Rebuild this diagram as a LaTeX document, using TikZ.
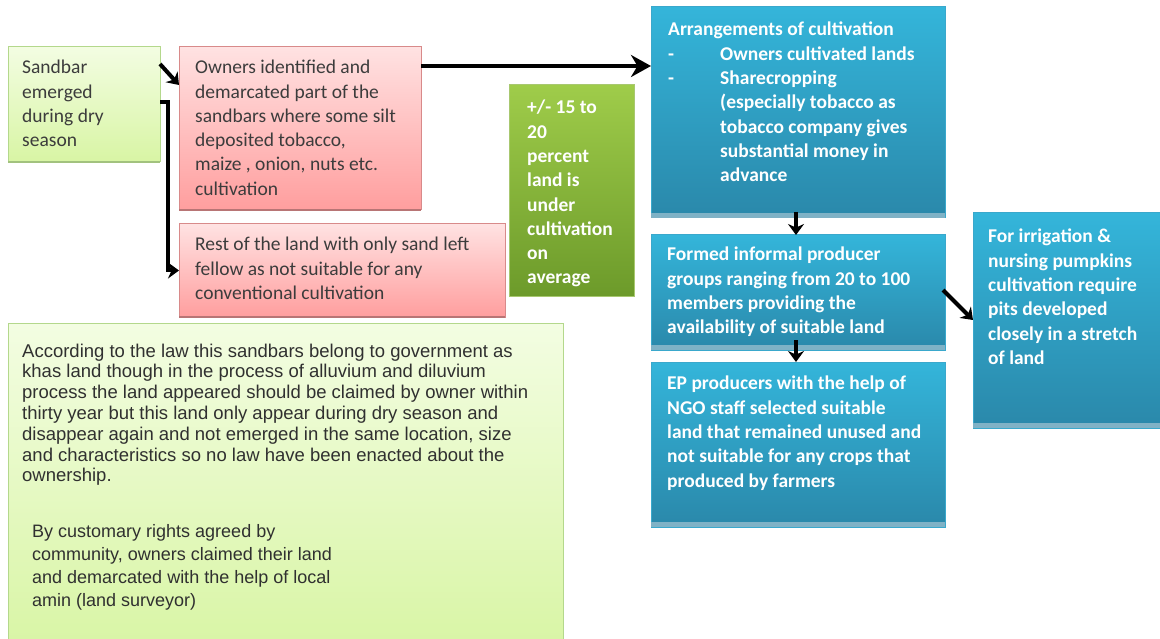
\documentclass[tikz,border=0pt]{standalone}
\usepackage{fontspec}
\setmainfont{Carlito}
\newfontfamily\arialf{Liberation Sans}
\usetikzlibrary{arrows.meta,calc}
\definecolor{lgTop}{HTML}{F3FDE2}
\definecolor{lgBot}{HTML}{D8F5A4}
\definecolor{lgEdge}{HTML}{B4D88C}
\definecolor{pkTop}{HTML}{FFE2E2}
\definecolor{pkBot}{HTML}{FF9E9E}
\definecolor{pkEdge}{HTML}{D88A8A}
\definecolor{dgTop}{HTML}{9FCC4A}
\definecolor{dgBot}{HTML}{6C9A2A}
\definecolor{dgEdge}{HTML}{A8C870}
\definecolor{blTop}{HTML}{34B5DA}
\definecolor{blBot}{HTML}{2A88AA}
\definecolor{blEdge}{HTML}{3AA8CC}
\definecolor{blStrip}{HTML}{7FB2C6}
\definecolor{txtGray}{HTML}{3C3C3C}
\definecolor{txtDark}{HTML}{303030}
\begin{document}
\begin{tikzpicture}[x=1pt,y=-1pt,
  box/.style={anchor=north west, inner sep=0pt, outer sep=0pt, line width=1pt},
  sandbox/.style={box, top color=lgTop, bottom color=lgBot, draw=lgEdge},
  pinkbox/.style={box, top color=pkTop, bottom color=pkBot, draw=pkEdge},
  greenbox/.style={box, top color=dgTop, bottom color=dgBot, draw=dgEdge},
  bluebox/.style={box, top color=blTop, bottom color=blBot, draw=blEdge},
  txt/.style={anchor=north west, inner sep=0pt, align=left, yshift=13.01pt,
    execute at begin node=\strut,
    font=\fontsize{19.5}{24.3}\selectfont, text=txtGray},
  wtxt/.style={txt, text=white, font=\fontsize{19.5}{24.3}\selectfont\bfseries},
  atxt/.style={txt, yshift=1.55pt, text=txtDark, font=\arialf\fontsize{18.5}{20.8}\selectfont},
  btxt/.style={txt, yshift=-0.91pt, text=txtDark, font=\arialf\fontsize{18}{23}\selectfont},
  arr/.style={line width=4pt, -{Stealth[length=11pt,width=16pt]}},
  bigarr/.style={line width=4.5pt, -{Stealth[length=20pt,width=22pt]}}
]
\useasboundingbox (0,0) rectangle (1160,639);
\fill[white] (0,0) rectangle (1160,639);

% boxes
\node[sandbox, minimum width=152pt, minimum height=115pt] (sand) at (8,47) {};
\node[pinkbox, minimum width=242pt, minimum height=163pt] (p1) at (179,47) {};
\node[pinkbox, minimum width=326pt, minimum height=93pt] (p2) at (179,224) {};
\node[greenbox, minimum width=125pt, minimum height=212pt] (g1) at (509,85) {};
\node[bluebox, minimum width=294pt, minimum height=211pt] (b1) at (651,7) {};
\node[bluebox, minimum width=294pt, minimum height=115pt] (b2) at (651,235) {};
\node[bluebox, minimum width=294pt, minimum height=165pt] (b3) at (651,362) {};
\node[bluebox, minimum width=200pt, minimum height=215pt] (b4) at (973,213) {};
\node[sandbox, draw=lgEdge, minimum width=555pt, minimum height=330pt] (big) at (8,323) {};

% bottom strips
\foreach \n in {b1,b2,b3,b4}{
  \fill[blStrip] ([yshift=5pt]\n.south west) rectangle (\n.south east);
}
\foreach \n in {p1,p2}{
  \draw[pkEdge!85!black, line width=1.5pt] (\n.south west) -- (\n.south east);
}
\draw[lgEdge!90!black, line width=1.5pt] (sand.south west) -- (sand.south east);

% texts
\node[txt] (tsand) at (22,73) {Sandbar\\emerged\\during dry\\season};
\node[txt] (tp1) at (195,73) {Owners identified and\\demarcated part of the\\sandbars where some silt\\deposited tobacco,\\maize , onion, nuts etc.\\cultivation};
\node[txt] (tp2) at (195,250) {Rest of the land with only sand left\\fellow as not suitable for any\\conventional cultivation};
\node[wtxt] (tg1) at (527,113) {+/- 15 to\\20\\percent\\land is\\under\\cultivation\\on\\average};
\node[wtxt] (tb1) at (668,35) {Arrangements of cultivation\\
\makebox[52pt][l]{-}Owners cultivated lands\\
\makebox[52pt][l]{-}Sharecropping\\
\hspace*{52pt}(especially tobacco as\\
\hspace*{52pt}tobacco company gives\\
\hspace*{52pt}substantial money in\\
\hspace*{52pt}advance};
\node[wtxt] (tb2) at (667,260) {Formed informal producer\\groups ranging from 20 to 100\\members providing the\\availability of suitable land};
\node[wtxt] (tb3) at (667,389) {EP producers with the help of\\NGO staff selected suitable\\land that remained unused and\\not suitable for any crops that\\produced by farmers};
\node[wtxt] (tb4) at (988,242) {For irrigation \&\\nursing pumpkins\\cultivation require\\pits developed\\closely in a stretch\\of land};
\node[atxt] (tbig1) at (22,358) {According to the law this sandbars belong to government as\\khas land though in the process of alluvium and diluvium\\process the land appeared should be claimed by owner within\\thirty year but this land only appear during dry season and\\disappear again and not emerged in the same location, size\\and characteristics so no law have been enacted about the\\ownership.};
\node[btxt] (tbig2) at (32,536) {By customary rights agreed by\\community, owners claimed their land\\and demarcated with the help of local\\amin (land surveyor)};

% connectors
\draw[arr] ([yshift=-17pt]sand.north east) -- ([yshift=-38pt]p1.north west);
\draw[arr] ([yshift=-55pt]sand.north east) -- ++(8,0) |- (p2.west);
\draw[bigarr] ([yshift=-19pt]p1.north east) coordinate (s1) -- (s1 -| b1.west);
\draw[arr] ([xshift=145pt,yshift=6pt]b1.south west) -- ([xshift=145pt]b2.north west);
\draw[arr] ([xshift=145pt,yshift=10pt]b2.south west) -- ([xshift=145pt]b3.north west);
\draw[arr] ([xshift=-2pt,yshift=-55pt]b2.north east) -- ([yshift=-107pt]b4.north west);
\end{tikzpicture}
\end{document}
